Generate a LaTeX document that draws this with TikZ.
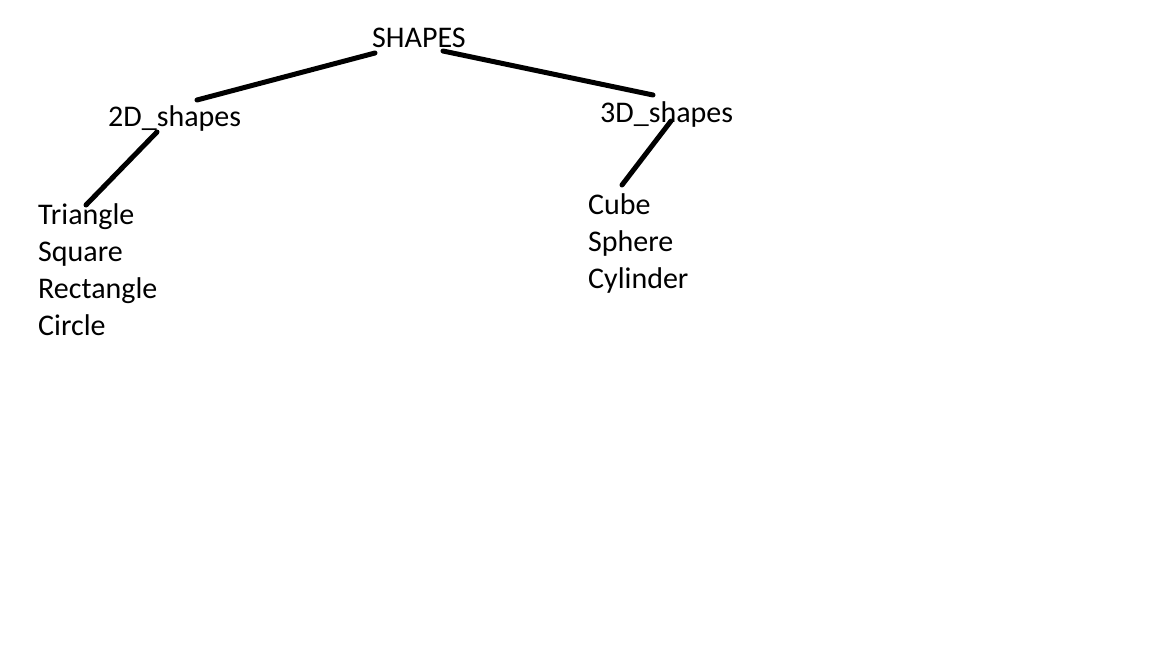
\documentclass[tikz,border=0pt]{standalone}
\usepackage{fontspec}
\setmainfont{Carlito}
\begin{document}
\begin{tikzpicture}[
    x=1pt,
    y=-1pt,
    label/.style={
        anchor=base west,
        inner sep=0pt,
        font=\fontsize{30}{36}\selectfont
    },
    edge/.style={
        draw,
        line width=5pt,
        line cap=round
    }
]
\useasboundingbox[fill=white] (0,0) rectangle (1152,648);

% =====================
% Root
% =====================
\node[label] (shapes) at (372,47) {SHAPES};

% =====================
% Ramas
% =====================
\node[label] (twoD)   at (108,126) {2D\_shapes};
\node[label] (threeD) at (600,122) {3D\_shapes};

% =====================
% Lista 2D
% =====================
\node[label] (triangle)  at (38,224) {Triangle};
\node[label] (square)    at (38,261) {Square};
\node[label] (rectangle) at (38,298) {Rectangle};
\node[label] (circle)    at (38,335) {Circle};

% =====================
% Lista 3D
% =====================
\node[label] (cube)     at (588,214) {Cube};
\node[label] (sphere)   at (588,251) {Sphere};
\node[label] (cylinder) at (588,288) {Cylinder};

% =====================
% Conectores
% =====================
\draw[edge] ([shift={(3,6)}]shapes.base west) -- ([shift={(89,-26)}]twoD.base west);
\draw[edge] ([shift={(71,4)}]shapes.base west) -- ([shift={(53,-27)}]threeD.base west);
\draw[edge] ([shift={(49,6)}]twoD.base west) -- ([shift={(48,-19)}]triangle.base west);
\draw[edge] ([shift={(71,-1)}]threeD.base west) -- ([shift={(34,-29)}]cube.base west);

\end{tikzpicture}
\end{document}
